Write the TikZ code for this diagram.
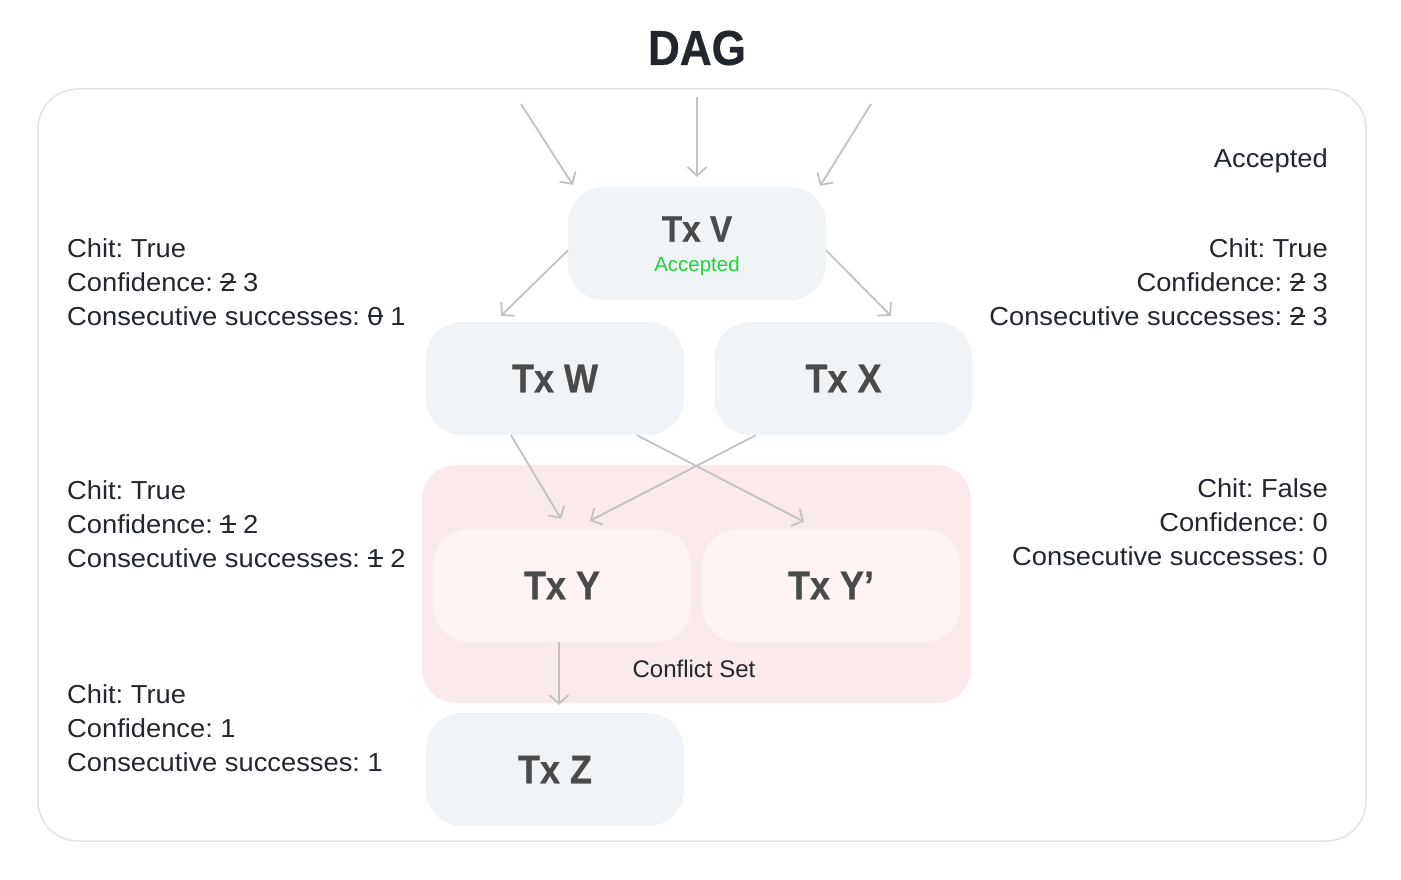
\documentclass[tikz,border=0pt]{standalone}
\usepackage{fontspec}
\setmainfont{Liberation Sans}
\newfontfamily\infofont{Liberation Sans}[FakeStretch=1.05]
\newfontfamily\heavyfont{Liberation Sans}[FakeStretch=0.9,BoldFeatures={FakeBold=0.6}]
\usetikzlibrary{arrows.meta,calc}
\definecolor{txfill}{HTML}{F1F4F7}
\definecolor{cffill}{HTML}{FBEAEB}
\definecolor{yfill}{HTML}{FDF3F3}
\definecolor{arr}{HTML}{C2C2C2}
\definecolor{frame}{HTML}{E4E4E4}
\definecolor{ink}{HTML}{22262D}
\definecolor{txink}{HTML}{4A4A4A}
\definecolor{okgreen}{HTML}{1FD23C}
\newcommand\stk[1]{\leavevmode\setbox0\hbox{#1}\rlap{\color{ink}\rule[0.45\ht0]{\wd0}{0.075em}}\box0\relax}
\tikzset{
  txbox/.style={rounded corners=36pt, fill=#1, minimum width=258pt, minimum height=113pt, inner sep=0pt,
    font=\heavyfont\bfseries\fontsize{40}{42}\selectfont, text=txink},
  txbox/.default=txfill,
  conn/.style={draw=arr, line width=1.8pt, -{Straight Barb[length=8.5pt,width=19pt,line width=1.8pt]}},
  info/.style={font=\infofont\frenchspacing\fontsize{26}{34}\selectfont, text=ink, inner sep=0pt},
}
\begin{document}
\begin{tikzpicture}[x=1pt,y=-1pt]
\useasboundingbox (0,0) rectangle (1401,880);
% title
\node[font=\heavyfont\bfseries\fontsize{49}{52}\selectfont, text=ink] (title) at (697,48) {DAG};
% outer frame
\draw[frame, line width=1.5pt, rounded corners=40pt] (38,89) rectangle (1366,841);
% conflict set
\node[fill=cffill, rounded corners=34pt, minimum width=549pt, minimum height=238pt, inner sep=0pt] (cs) at (696.5,584) {};
\node[font=\fontsize{24}{26}\selectfont, text=ink] (cslabel) at (694,669) {Conflict Set};
% transactions
\node[txbox] (V) at (697,243.5) {};
\node[font=\heavyfont\bfseries\fontsize{37}{40}\selectfont, text=txink] (Vt) at (697,229) {Tx V};
\node[font=\fontsize{20.5}{22}\selectfont, text=okgreen] (Vs) at (697,266) {Accepted};
\node[txbox] (W) at (555,378.5) {Tx W};
\node[txbox] (X) at (843.5,378.5) {Tx X};
\node[txbox=yfill] (Y) at (562,585.5) {Tx Y};
\node[txbox=yfill] (Yp) at (831,585.5) {Tx Y’};
\node[txbox] (Z) at (555,769.5) {Tx Z};
% free ends of incoming arrows
\coordinate (in1) at (521,104);
\coordinate (in2) at (697,97);
\coordinate (in3) at (871,104);
% connectors
\draw[conn] (in1) -- ($(V.north west)+(5,-2)$);
\draw[conn] (in2) -- ($(V.north)+(0,-10)$);
\draw[conn] (in3) -- ($(V.north east)+(-6,-1)$);
\draw[conn] ($(V.west)+(0,7)$) -- ($(W.north)+(-54,-6)$);
\draw[conn] ($(V.east)+(0,7)$) -- ($(X.north)+(47.5,-6)$);
\draw[conn] ($(W.south)+(-44,0)$) -- ($(Y.north)+(-1,-10)$);
\draw[conn] ($(X.south)+(-87.5,0)$) -- ($(Y.north)+(28,-8)$);
\draw[conn] ($(W.south)+(82,0)$) -- ($(Yp.north)+(-27,-7)$);
\draw[conn] ($(Y.south)+(-3,0)$) -- ($(Z.north)+(4,-8)$);
% info texts
\node[info, anchor=east] (acc) at (1328,161) {Accepted};
\node[info, anchor=west, align=left] (iV) at (67,282) {Chit: True\\Confidence: \stk{2} 3\\Consecutive successes: \stk{0} 1};
\node[info, anchor=east, align=right] (iX) at (1328,282) {Chit: True\\Confidence: \stk{2} 3\\Consecutive successes: \stk{2} 3};
\node[info, anchor=west, align=left] (iY) at (67,524) {Chit: True\\Confidence: \stk{1} 2\\Consecutive successes: \stk{1} 2};
\node[info, anchor=east, align=right] (iYp) at (1328,522) {Chit: False\\Confidence: 0\\Consecutive successes: 0};
\node[info, anchor=west, align=left] (iZ) at (67,728) {Chit: True\\Confidence: 1\\Consecutive successes: 1};
\end{tikzpicture}
\end{document}
